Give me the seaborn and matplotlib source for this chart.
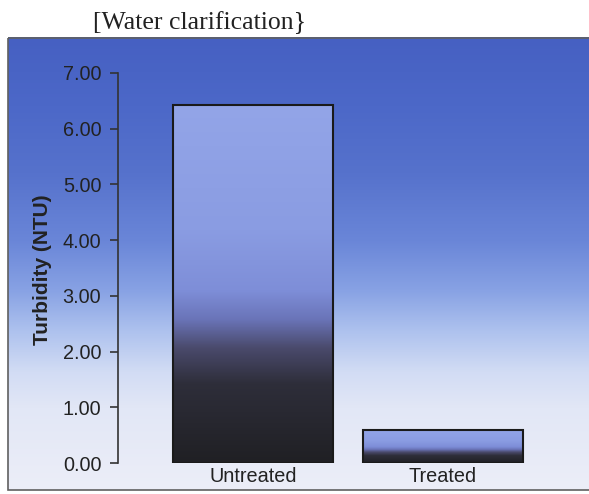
import numpy as np
import pandas as pd
import matplotlib
matplotlib.use("Agg")
import matplotlib.pyplot as plt
import seaborn as sns
from matplotlib.colors import LinearSegmentedColormap
from matplotlib.patches import Rectangle

sns.set_style("white")
plt.rcParams['font.family'] = ['Liberation Sans', 'DejaVu Sans']

# data
categories = ["Untreated", "Treated"]
turbidity = [6.43, 0.60]
yticks = [0, 1, 2, 3, 4, 5, 6, 7]

df = pd.DataFrame({"cond": categories, "ntu": turbidity})

fig = plt.figure(figsize=(5.89, 4.94), dpi=100, facecolor="white")

# background panel with the blue -> white gradient
bg = fig.add_axes([0, 0, 1, 1], zorder=0)
bg.set_xlim(0, 589)
bg.set_ylim(494, 0)
bg.axis("off")
bg_cmap = LinearSegmentedColormap.from_list("bg", [
    (0.00, "#4660c2"), (0.15, "#4c68c8"), (0.30, "#5672cc"),
    (0.45, "#6a86d8"), (0.56, "#88a2e4"), (0.65, "#aec2ee"),
    (0.74, "#d2dcf4"), (0.82, "#e2e7f6"), (1.00, "#eceef8")])
grad = np.linspace(0, 1, 256).reshape(-1, 1)
bg.imshow(grad, cmap=bg_cmap, aspect="auto", extent=(8, 589, 490, 38), zorder=0)
bg.add_patch(Rectangle((8, 38), 590, 452, fill=False, edgecolor="#606060", lw=1.2, zorder=1))
bg.text(93, 29, "[Water clarification}", family=["Liberation Serif", "DejaVu Serif"],
        fontsize=18.5, color="#222222", va="baseline", ha="left")

ax = fig.add_axes([118 / 589, 31 / 494, 460 / 589, 390 / 494], zorder=2)
ax.patch.set_alpha(0)
sns.barplot(data=df, x="cond", y="ntu", width=0.84, color="#8a9ce2",
            edgecolor="#1a1a1a", linewidth=1.5, ax=ax)

bar_cmap = LinearSegmentedColormap.from_list("bar", [
    (0.00, "#93a5e8"), (0.35, "#8a9ce2"), (0.52, "#7e8ed8"),
    (0.60, "#6a74b8"), (0.68, "#4a4a6c"), (0.78, "#2e2e3a"),
    (1.00, "#202024")])
for p in ax.patches:
    x0, y0 = p.get_x(), p.get_y()
    w, h = p.get_width(), p.get_height()
    im = ax.imshow(grad, cmap=bar_cmap, aspect="auto",
                   extent=(x0, x0 + w, y0, y0 + h), zorder=1)
    im.set_clip_path(p)
    p.set_facecolor("none")
    p.set_zorder(2)

ax.set_xlim(-0.71, 1.71)
ax.set_ylim(0, 7)
ax.set_yticks(yticks)
ax.set_yticklabels([f"{v:.2f}" for v in yticks], fontsize=14.3, color="#222222")
ax.tick_params(axis="y", direction="out", length=6, width=1.2, color="#333333", pad=6, left=True)
ax.tick_params(axis="x", length=0, pad=3, labelsize=14.3, labelcolor="#222222")
for s in ["top", "right", "bottom"]:
    ax.spines[s].set_visible(False)
ax.spines["left"].set_color("#333333")
ax.spines["left"].set_linewidth(1.2)
ax.set_xlabel("")
ax.set_ylabel("Turbidity (NTU)", fontsize=15, fontweight="bold", color="#222222")
ax.yaxis.set_label_coords(-0.143, 0.495)

fig.savefig("out.png", dpi=100, facecolor="white")
